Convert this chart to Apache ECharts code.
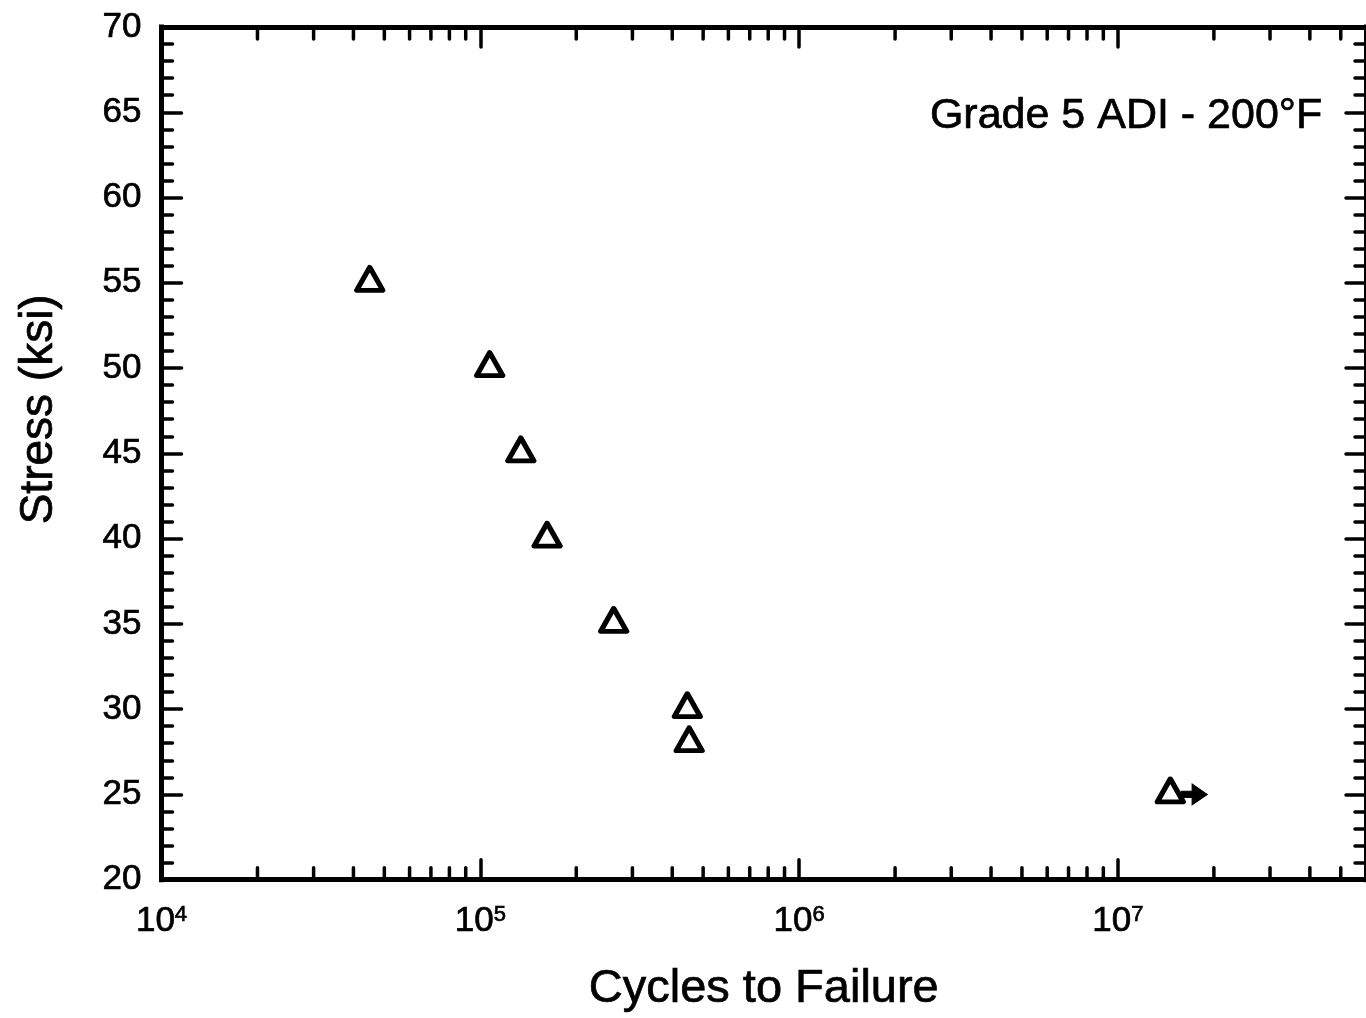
<!DOCTYPE html>
<html>
<head>
<meta charset="utf-8">
<title>Grade 5 ADI - 200°F</title>
<script src="https://cdn.jsdelivr.net/npm/echarts@6/dist/echarts.min.js"></script>
<style>
  html, body { margin: 0; padding: 0; background: #fff; }
  #chart { width: 1366px; height: 1018px; }
</style>
</head>
<body>
<div id="chart"></div>
<script>
// S-N fatigue data, Grade 5 ADI tested at 200°F
const cycles = [45000, 107000, 134000, 162000, 262000, 446000, 452000, 14600000];
const stress = [55, 50, 45, 40, 35, 30, 28, 25];

// run-out specimen (did not fail) marked with an arrow
const runoutCycles = [14600000];
const runoutStress = [25];

// axis ranges and ticks
const xMin = 1e4;
const xMax = 6e7;
const yMin = 20;
const yMax = 70;
const yStep = 5;
const minorMultipliers = [2, 3, 4, 5, 6, 7, 8, 9];
const minorDecades = [1e4, 1e5, 1e6, 1e7];

const FONT = '"Liberation Sans", Arial, Helvetica, sans-serif';
const INK = '#000';
// a hairline outline gives the lettering a slightly heavier weight
const HEAVY = { textBorderColor: INK, textBorderWidth: 0.7 };

const minorTicks = [];
minorDecades.forEach(d => minorMultipliers.forEach(m => {
  const v = m * d;
  if (v < xMax) minorTicks.push([v, yMin]);
}));

const chart = echarts.init(document.getElementById('chart'), null, { renderer: 'canvas' });

const tickLine = { color: INK, width: 3.5, cap: 'round' };
const axisLineStyle = { color: INK, width: 5, cap: 'square' };

function xAxisBase(position, showLabel) {
  return {
    type: 'log',
    logBase: 10,
    min: xMin,
    max: xMax,
    position: position,
    axisLine: { show: true, onZero: false, lineStyle: axisLineStyle },
    axisTick: { show: true, inside: true, length: 20, lineStyle: tickLine },
    minorTick: { show: false },
    splitLine: { show: false },
    axisLabel: {
      show: showLabel,
      showMaxLabel: false,
      margin: 24,
      formatter: v => '{b|10}{s|' + Math.round(Math.log10(v)) + '}',
      rich: {
        b: Object.assign({ fontFamily: FONT, fontSize: 35, color: INK, lineHeight: 36 }, HEAVY),
        s: Object.assign({ fontFamily: FONT, fontSize: 22, color: INK, verticalAlign: 'top', lineHeight: 36 }, HEAVY)
      }
    }
  };
}

function yAxisBase(position, showLabel) {
  return {
    type: 'value',
    min: yMin,
    max: yMax,
    interval: yStep,
    position: position,
    axisLine: { show: true, onZero: false, lineStyle: axisLineStyle },
    axisTick: { show: true, inside: true, length: 20, lineStyle: tickLine },
    minorTick: { show: true, splitNumber: 5, length: 11, lineStyle: tickLine },
    splitLine: { show: false },
    axisLabel: Object.assign({
      show: showLabel,
      margin: 20,
      fontFamily: FONT,
      fontSize: 35,
      color: INK
    }, HEAVY)
  };
}

const xBottom = Object.assign(xAxisBase('bottom', true), {
  name: 'Cycles to Failure',
  nameLocation: 'middle',
  nameGap: 86,
  nameTextStyle: Object.assign({ fontFamily: FONT, fontSize: 47, color: INK }, HEAVY)
});
const xTop = xAxisBase('top', false);

const yLeft = Object.assign(yAxisBase('left', true), {
  name: 'Stress (ksi)',
  nameLocation: 'middle',
  nameGap: 99,
  nameRotate: 90,
  nameTextStyle: Object.assign({ fontFamily: FONT, fontSize: 46, color: INK, padding: [0, 0, 0, 88] }, HEAVY)
});
const yRight = yAxisBase('right', false);

// minor decade ticks (2..9 x 10^n) on the bottom and top frame edges
function renderMinorTick(params, api) {
  const v = api.value(0);
  const pb = api.coord([v, yMin]);
  const pt = api.coord([v, yMax]);
  const len = 12;
  const style = { stroke: INK, lineWidth: 3.5, lineCap: 'round' };
  return {
    type: 'group',
    children: [
      { type: 'line', shape: { x1: pb[0], y1: pb[1], x2: pb[0], y2: pb[1] - len }, style: style },
      { type: 'line', shape: { x1: pt[0], y1: pt[1], x2: pt[0], y2: pt[1] + len }, style: style }
    ]
  };
}

chart.setOption({
  backgroundColor: '#fff',
  animation: false,
  title: {
    text: 'Grade 5 ADI - 200°F',
    right: 43,
    top: 95,
    padding: 0,
    textStyle: Object.assign({ fontFamily: FONT, fontSize: 43, fontWeight: 'normal', color: INK }, HEAVY)
  },
  grid: { left: 161.5, right: -7, top: 27, bottom: 136, containLabel: false },
  xAxis: [xBottom, xTop],
  yAxis: [yLeft, yRight],
  series: [
    {
      type: 'custom',
      name: 'minor ticks',
      xAxisIndex: 0,
      yAxisIndex: 0,
      silent: true,
      clip: false,
      renderItem: renderMinorTick,
      data: minorTicks,
      z: 3
    },
    {
      type: 'scatter',
      name: 'Grade 5 ADI',
      xAxisIndex: 0,
      yAxisIndex: 0,
      symbol: 'triangle',
      symbolSize: [26, 23],
      symbolOffset: [0, -4],
      itemStyle: { color: '#fff', borderColor: INK, borderWidth: 5, borderJoin: 'round', opacity: 1 },
      data: cycles.map((c, i) => [c, stress[i]]),
      z: 5
    },
    {
      type: 'scatter',
      name: 'Run-out',
      xAxisIndex: 0,
      yAxisIndex: 0,
      symbol: 'path://M0,7 L10,7 L10,0 L24,10 L10,20 L10,13 L0,13 Z',
      symbolSize: [26, 21],
      symbolOffset: [24, 0],
      symbolKeepAspect: false,
      itemStyle: { color: INK, borderColor: INK, borderWidth: 1, opacity: 1 },
      data: runoutCycles.map((c, i) => [c, runoutStress[i]]),
      z: 4
    }
  ]
});
</script>
</body>
</html>
